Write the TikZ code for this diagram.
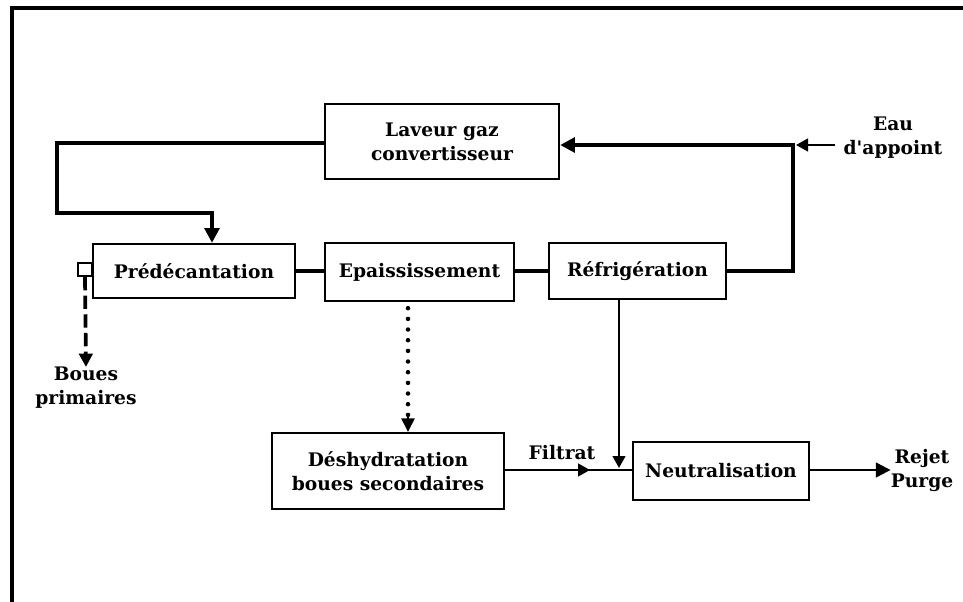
\documentclass[tikz,border=0pt]{standalone}
\usepackage{fontspec}
\setmainfont{DejaVu Serif}[Ligatures=TeXOff]
\usetikzlibrary{arrows.meta,decorations.markings}
\newdimen\pxu \pxu=0.75pt
\begin{document}
\begin{tikzpicture}[x=0.75pt,y=-0.75pt,
  lbl/.style={font=\fontsize{14}{18}\selectfont\bfseries, align=center, inner sep=0pt},
  procbox/.style={lbl, draw, line width=1.8pt},
  heavy/.style={line width=3.3pt},
  light/.style={line width=1.7pt},
  bigtip/.style={-{Triangle[length=11pt,width=11pt]}},
  smalltip/.style={-{Triangle[length=9pt,width=9.5pt]}},
  midtip/.style={postaction={decorate}, decoration={markings,
      mark=at position #1 with {\arrow{Triangle[length=9pt,width=9.5pt]}}}}
]
\useasboundingbox (0,0) rectangle (963,602);

% page frame (left and top edges only)
\draw[line width=2.6pt] (12,602) -- (12,8) -- (963,8);

% process units
\node[procbox, minimum width=234\pxu, minimum height=75\pxu] (lav) at (442,141.5) {Laveur gaz\\convertisseur};
\node[procbox, minimum width=202\pxu, minimum height=54\pxu] (pred) at (194,271) {Prédécantation};
\node[procbox, minimum width=189\pxu, minimum height=58\pxu] (epa) at (419.5,272) {Epaississement};
\node[procbox, minimum width=177\pxu, minimum height=56\pxu] (ref) at (637.5,271) {Réfrigération};
\node[procbox, minimum width=232\pxu, minimum height=76\pxu] (desh) at (388,471) {Déshydratation\\boues secondaires};
\node[procbox, minimum width=176\pxu, minimum height=58\pxu] (neu) at (721,471) {Neutralisation};

% sludge draw-off
\node[draw, fill=white, line width=1.4pt, minimum width=14\pxu, minimum height=13\pxu, inner sep=0pt] (sq) at (85,269.5) {};

% outlet labels
\node[lbl] (boues) at (86,388) {Boues\\primaires};
\node[lbl] (eau) at (893,138) {Eau\\d'appoint};
\node[lbl] (rejet) at (922,470) {Rejet\\Purge};
\node[lbl, anchor=base] (filt) at (562,459) {Filtrat};

% recirculation loop
\coordinate (lk) at (57,213);
\coordinate (junc) at (793,145);
\draw[heavy, bigtip] (lav.west |- 0,143) -| (lk) -| ([xshift=18\pxu]pred.north);
\draw[heavy] (pred.east) -- (epa.west |- pred.east);
\draw[heavy] (epa.east |- ref.west) -- (ref.west);
\draw[heavy, bigtip] (ref.east) -| (junc) -- (lav.east |- junc);
\draw[light, smalltip] ([xshift=-8\pxu]eau.west |- junc) -- ([xshift=3\pxu]junc);

% primary sludge
\draw[line width=2.8pt, dash pattern=on 10pt off 4pt, -{Triangle[length=10pt,width=10pt]}] (sq.south) -- (boues.north);

% thickened sludge to dewatering
\draw[line width=3.4pt, line cap=round, dash pattern=on 0pt off 8pt] ([xshift=-11.5\pxu, yshift=-6\pxu]epa.south) -- ([xshift=20\pxu, yshift=13\pxu]desh.north);
\draw[-{Triangle[length=10pt,width=10pt]}, line width=1pt] ([xshift=20\pxu, yshift=15\pxu]desh.north) -- ([xshift=20\pxu]desh.north);

% liquid lines to neutralisation
\draw[light, smalltip] ([xshift=-18.5\pxu]ref.south) -- ([xshift=-18.5\pxu]ref.south |- 0,468);
\draw[light, midtip=0.67] (desh.east |- 0,470) -- (neu.west |- 0,470);
\draw[light, bigtip] (neu.east |- 0,470) -- (rejet.west);
\end{tikzpicture}
\end{document}
